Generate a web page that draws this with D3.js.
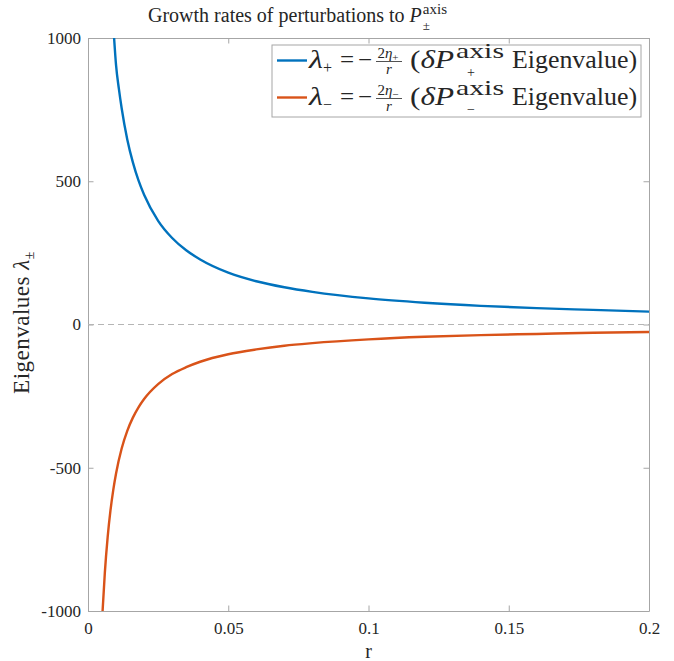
<!DOCTYPE html>
<html>
<head>
<meta charset="utf-8">
<script src="https://cdn.jsdelivr.net/npm/d3@7"></script>
<style>
  body { margin: 0; background: #fff; }
  svg text { font-family: "Liberation Serif", "DejaVu Serif", serif !important; fill: #262626; }
</style>
</head>
<body>
<div id="app"></div>
<script>
// values
const rPlus = [0.0093, 0.010, 0.011, 0.012, 0.014, 0.016, 0.018, 0.02, 0.025, 0.03, 0.035, 0.04, 0.05, 0.06, 0.07, 0.08, 0.1, 0.12, 0.14, 0.16, 0.18, 0.2];
const lambdaPlus = [1000, 905, 823, 755, 646, 566, 503, 453, 362, 302, 259, 227, 181, 151, 130, 114, 91, 76, 65, 57, 51, 45];
const rMinus = [0.0052, 0.006, 0.007, 0.008, 0.009, 0.01, 0.012, 0.014, 0.016, 0.018, 0.02, 0.025, 0.03, 0.035, 0.04, 0.05, 0.06, 0.07, 0.08, 0.1, 0.12, 0.14, 0.16, 0.18, 0.2];
const lambdaMinus = [-1000, -867, -743, -650, -578, -520, -433, -371, -325, -289, -260, -208, -173, -149, -130, -104, -87, -74, -65, -52, -43, -37, -33, -29, -26];
const xTicks = [0, 0.05, 0.1, 0.15, 0.2];
const xTickLabels = ["0", "0.05", "0.1", "0.15", "0.2"];
const yTicks = [-1000, -500, 0, 500, 1000];
const yTickLabels = ["-1000", "-500", "0", "500", "1000"];
const seriesNames = ["plus", "minus"];
const seriesSigns = ["+", "\u2212"];
const seriesColors = ["#0072BD", "#D95319"];

const width = 674, height = 661;
const margin = { left: 88, right: 25, top: 38, bottom: 50 };

const x = d3.scaleLinear().domain([0, 0.2]).range([margin.left, width - margin.right]);
const y = d3.scaleLinear().domain([-1000, 1000]).range([height - margin.bottom, margin.top]);

const svg = d3.select("#app").append("svg")
    .attr("width", width)
    .attr("height", height);

svg.append("defs").append("clipPath")
    .attr("id", "plot-clip")
    .append("rect")
    .attr("x", x(0)).attr("y", y(1000))
    .attr("width", x(0.2) - x(0)).attr("height", y(-1000) - y(1000));

// axes, MATLAB style box with inward ticks
const tickLen = 5.5;
const axisColor = "#a6a6a6";

const xBottom = svg.append("g")
    .attr("transform", `translate(0,${y(-1000)})`)
    .call(d3.axisBottom(x).tickValues(xTicks).tickSizeInner(-tickLen).tickSizeOuter(0)
        .tickFormat((d, i) => xTickLabels[i]).tickPadding(11));
const xTop = svg.append("g")
    .attr("transform", `translate(0,${y(1000)})`)
    .call(d3.axisTop(x).tickValues(xTicks).tickSizeInner(-tickLen).tickSizeOuter(0).tickFormat(""));
const yLeft = svg.append("g")
    .attr("transform", `translate(${x(0)},0)`)
    .call(d3.axisLeft(y).tickValues(yTicks).tickSizeInner(-tickLen).tickSizeOuter(0)
        .tickFormat((d, i) => yTickLabels[i]).tickPadding(7));
const yRight = svg.append("g")
    .attr("transform", `translate(${x(0.2)},0)`)
    .call(d3.axisRight(y).tickValues(yTicks).tickSizeInner(-tickLen).tickSizeOuter(0).tickFormat(""));

[xBottom, xTop, yLeft, yRight].forEach(g => {
    g.attr("font-family", null).attr("font-size", null);
    g.select(".domain").attr("stroke", axisColor);
    g.selectAll(".tick line").attr("stroke", axisColor);
    g.selectAll(".tick text").attr("font-size", 17).attr("fill", "#262626");
});
xBottom.selectAll(".tick text").attr("dy", "0.72em");

// zero reference line
svg.append("line")
    .attr("x1", x(0)).attr("x2", x(0.2))
    .attr("y1", y(0)).attr("y2", y(0))
    .attr("stroke", "#b5b5b5")
    .attr("stroke-width", 1)
    .attr("stroke-dasharray", "6,4");

// curves
const line = d3.line()
    .x(d => x(d[0]))
    .y(d => y(d[1]))
    .curve(d3.curveMonotoneX);

const curves = [d3.zip(rPlus, lambdaPlus), d3.zip(rMinus, lambdaMinus)];

svg.append("g")
    .attr("clip-path", "url(#plot-clip)")
    .selectAll("path")
    .data(curves)
    .join("path")
    .attr("fill", "none")
    .attr("stroke", (d, i) => seriesColors[i])
    .attr("stroke-width", 2.4)
    .attr("d", line);

// title
const title = svg.append("text")
    .attr("x", 148).attr("y", 22)
    .attr("font-size", 20);
title.append("tspan").text("Growth rates of perturbations to ");
title.append("tspan").attr("font-style", "italic").text("P");
const titleEnd = 148 + title.node().getComputedTextLength();
svg.append("text").attr("x", titleEnd + 1).attr("y", 14).attr("font-size", 15).text("axis");
svg.append("text").attr("x", titleEnd + 1).attr("y", 30).attr("font-size", 13).text("\u00b1");

// axis labels
svg.append("text")
    .attr("x", x(0.1)).attr("y", 658)
    .attr("text-anchor", "middle")
    .attr("font-size", 20)
    .text("r");

const yl = svg.append("text")
    .attr("transform", `translate(29,${y(0) - 2}) rotate(-90)`)
    .attr("text-anchor", "middle")
    .attr("font-size", 23)
    .attr("letter-spacing", 0.5);
yl.append("tspan").text("Eigenvalues ");
yl.append("tspan").attr("font-style", "italic").text("\u03bb");
yl.append("tspan").attr("font-size", 14).attr("dy", 5).text("\u00b1");

// legend
const legend = svg.append("g").attr("transform", "translate(272,45)");
legend.append("rect")
    .attr("width", 369).attr("height", 72)
    .attr("fill", "#fff")
    .attr("stroke", axisColor)
    .attr("stroke-width", 1);

const entry = legend.selectAll("g.entry")
    .data(seriesNames)
    .join("g")
    .attr("class", "entry")
    .attr("transform", (d, i) => `translate(0,${23 + i * 37})`);

entry.append("line")
    .attr("x1", 5).attr("x2", 35)
    .attr("y1", -7.5).attr("y2", -7.5)
    .attr("stroke", (d, i) => seriesColors[i])
    .attr("stroke-width", 2.4);

entry.append("text").attr("x", 37).attr("font-size", 25).attr("font-style", "italic")
    .attr("textLength", 14).attr("lengthAdjust", "spacingAndGlyphs").text("\u03bb");
entry.append("text").attr("x", 51).attr("y", 5).attr("font-size", 16).text((d, i) => seriesSigns[i]);
entry.append("text").attr("x", 68).attr("font-size", 25).text("=");
entry.append("text").attr("x", 86).attr("font-size", 25).text("\u2212");
// fraction 2eta/r
const num = entry.append("text").attr("x", 116).attr("y", -10).attr("text-anchor", "middle").attr("font-size", 15);
num.append("tspan").text("2");
num.append("tspan").attr("font-style", "italic").text("\u03b7");
num.append("tspan").attr("font-size", 11).attr("dy", 3).text((d, i) => seriesSigns[i]);
entry.append("line")
    .attr("x1", 104).attr("x2", 130)
    .attr("y1", -6.5).attr("y2", -6.5)
    .attr("stroke", "#262626").attr("stroke-width", 0.8);
entry.append("text").attr("x", 117).attr("y", 6).attr("text-anchor", "middle")
    .attr("font-size", 15).attr("font-style", "italic").text("r");

const dp = entry.append("text").attr("x", 138).attr("font-size", 25)
    .attr("textLength", 44).attr("lengthAdjust", "spacingAndGlyphs");
dp.append("tspan").text("(");
dp.append("tspan").attr("font-style", "italic").text("\u03b4P");
entry.append("text").attr("x", 184).attr("y", -10).attr("font-size", 21)
    .attr("textLength", 48).attr("lengthAdjust", "spacingAndGlyphs").text("axis");
entry.append("text").attr("x", 195).attr("y", 9).attr("font-size", 14).text((d, i) => seriesSigns[i]);
entry.append("text").attr("x", 240).attr("font-size", 25)
    .attr("textLength", 125).attr("lengthAdjust", "spacingAndGlyphs")
    .text("Eigenvalue)");
</script>
</body>
</html>
